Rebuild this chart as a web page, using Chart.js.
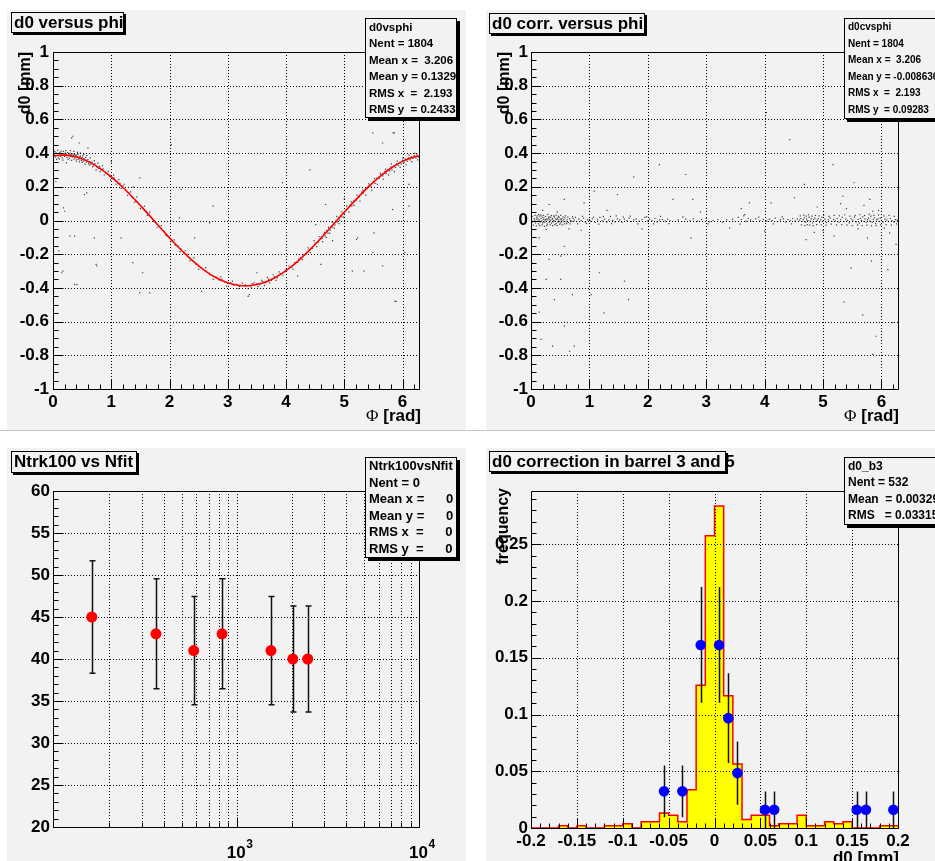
<!DOCTYPE html>
<html><head><meta charset="utf-8">
<script src="https://cdn.jsdelivr.net/npm/chart.js@4.4.1/dist/chart.umd.min.js"></script>
<style>
html,body{margin:0;padding:0;background:#fff;}
body{width:935px;height:861px;overflow:hidden;position:relative;font-family:"Liberation Sans",Arial,Helvetica,sans-serif;font-weight:bold;color:#000;}
.pad{position:absolute;background:#f2f2f2;}
canvas{position:absolute;}
.box{position:absolute;background:#f2f2f2;border:1px solid #000;box-sizing:border-box;white-space:pre;z-index:5;}
.title{box-shadow:2px 2px 0 #000;font-size:17px;line-height:19px;padding-left:2px;}
.stats{box-shadow:3px 3px 0 #000;overflow:hidden;padding-left:3px;}
.stats div{white-space:pre;}
.vt{position:absolute;writing-mode:vertical-rl;transform:rotate(180deg);font-size:16px;line-height:17px;white-space:nowrap;z-index:4;}
.xt{position:absolute;font-size:17px;line-height:17px;white-space:nowrap;z-index:4;text-align:right;}
.phi{font-family:"Liberation Serif","DejaVu Serif",serif;font-weight:normal;}
</style>
</head><body>
<div class="pad" style="left:7px;top:10px;width:459px;height:420px"></div>
<div class="pad" style="left:486px;top:10px;width:449px;height:420px"></div>
<div class="pad" style="left:7px;top:448px;width:459px;height:413px"></div>
<div class="pad" style="left:486px;top:448px;width:449px;height:413px"></div>
<div style="position:absolute;left:0;top:430px;width:935px;height:1px;background:#c4c4c4"></div>

<canvas id="c1" width="459" height="420" style="left:7px;top:10px"></canvas>
<canvas id="c2" width="449" height="420" style="left:486px;top:10px"></canvas>
<canvas id="c3" width="459" height="413" style="left:7px;top:448px"></canvas>
<canvas id="c4" width="449" height="413" style="left:486px;top:448px"></canvas>

<div class="box title" style="left:11px;top:12px;width:113px;height:21px">d0 versus phi</div>
<div class="box title" style="left:489px;top:13px;width:156px;height:21px">d0 corr. versus phi</div>
<div class="box title" style="left:11px;top:451px;width:126px;height:22px">Ntrk100 vs Nfit</div>
<div class="box title" style="left:489px;top:451px;width:237px;height:21px;overflow:visible">d0 correction in barrel 3 and 5</div>
<div style="position:absolute;left:725px;top:451px;width:1px;height:21px;background:#000;z-index:6"></div>
<div style="position:absolute;left:726px;top:453px;width:2px;height:21px;background:#000;z-index:6"></div>

<div class="box stats" style="left:365px;top:18px;width:92px;height:100px;font-size:11.5px;line-height:16.4px"><div>d0vsphi</div><div>Nent = 1804</div><div>Mean x =  3.206</div><div>Mean y = 0.1329</div><div>RMS x  =  2.193</div><div>RMS y  = 0.2433</div></div>
<div class="box stats" style="left:844px;top:18px;width:100px;height:101px;font-size:10px;line-height:16.6px"><div>d0cvsphi</div><div>Nent = 1804</div><div>Mean x =  3.206</div><div>Mean y = -0.008636</div><div>RMS x  =  2.193</div><div>RMS y  = 0.09283</div></div>
<div class="box stats" style="left:365px;top:457px;width:92px;height:101px;font-size:13px;line-height:16.6px"><div>Ntrk100vsNfit</div><div>Nent = 0</div><div>Mean x =      0</div><div>Mean y =      0</div><div>RMS x  =      0</div><div>RMS y  =      0</div></div>
<div class="box stats" style="left:844px;top:457px;width:100px;height:68px;font-size:12px;line-height:16.4px"><div>d0_b3</div><div>Nent = 532</div><div>Mean  = 0.00329</div><div>RMS   = 0.03315</div></div>

<div class="vt" style="left:16px;top:52px">d0 [mm]</div>
<div class="vt" style="left:495px;top:52px">d0 [mm]</div>
<div class="vt" style="left:494px;top:488px">frequency</div>
<div class="xt" style="right:514px;top:407px"><span class="phi">Φ</span> [rad]</div>
<div class="xt" style="right:36px;top:407px"><span class="phi">Φ</span> [rad]</div>
<div class="xt" style="right:36px;top:849px">d0 [mm]</div>

<script>
// ================= DATA =================
// Panel 1 / 2 axes
const phiTicks = [0, 1, 2, 3, 4, 5, 6];
const d0Ticks = [-1, -0.8, -0.6, -0.4, -0.2, 0, 0.2, 0.4, 0.6, 0.8, 1];
// Fitted curve (in panel 1)
const fitPhi = [0,0.2,0.4,0.6,0.8,1.0,1.2,1.4,1.6,1.8,2.0,2.2,2.4,2.6,2.8,3.0,3.2,3.4,3.6,3.8,4.0,4.2,4.4,4.6,4.8,5.0,5.2,5.4,5.6,5.8,6.0,6.2,6.2832];
const fitD0 = [0.383,0.388,0.377,0.351,0.311,0.259,0.196,0.126,0.051,-0.027,-0.103,-0.175,-0.240,-0.296,-0.340,-0.370,-0.386,-0.386,-0.371,-0.341,-0.297,-0.242,-0.177,-0.105,-0.028,0.049,0.124,0.195,0.258,0.310,0.351,0.377,0.383];
// Panel 1 scatter: [phi, d0]
const d0VsPhi = [
[0.02,0.392],[0.04,0.378],[0.05,0.401],[0.07,0.385],[0.09,0.372],[0.1,0.395],[0.12,0.404],[0.13,0.381],[0.15,0.39],[0.16,0.372],[0.18,0.41],[0.19,0.395],[0.2,0.38],[0.21,0.4],[0.23,0.392],[0.24,0.374],[0.25,0.403],[0.27,0.388],[0.28,0.369],[0.29,0.398],[0.3,0.381],[0.31,0.392],[0.33,0.376],[0.34,0.395],[0.35,0.386],[0.36,0.364],[0.37,0.392],[0.38,0.372],[0.39,0.384],[0.4,0.388],[0.41,0.362],[0.42,0.379],[0.43,0.392],[0.44,0.366],[0.45,0.378],[0.46,0.359],[0.47,0.382],[0.48,0.371],[0.49,0.357],[0.5,0.372],[0.51,0.383],[0.52,0.352],[0.53,0.366],[0.55,0.36],[0.56,0.374],[0.57,0.346],[0.58,0.357],[0.6,0.362],[0.61,0.34],[0.63,0.35],[0.65,0.335],[0.67,0.347],[0.7,0.325],[0.72,0.338],[0.75,0.318],[0.78,0.31],[0.8,0.322],[0.83,0.3],[0.86,0.306],[0.9,0.283],[0.93,0.276],[0.97,0.262],[1.0,0.262],[1.02,0.248],[1.05,0.252],[1.07,0.236],[1.1,0.231],[1.12,0.218],[1.15,0.22],[1.18,0.2],[1.2,0.205],[1.25,0.18],[1.3,0.166],[1.35,0.141],[1.38,0.132],[1.42,0.115],[1.45,0.112],[1.48,0.095],[1.52,0.079],[1.55,0.072],[1.6,0.055],[1.63,0.04],[1.68,0.018],[1.75,-0.01],[1.82,-0.035],[1.9,-0.062],[1.95,-0.09],[2.0,-0.1],[2.05,-0.118],[2.1,-0.146],[2.15,-0.152],[2.2,-0.17],[2.25,-0.197],[2.3,-0.2],[2.45,-0.258],[2.55,-0.28],[2.7,-0.322],[2.8,-0.336],[2.85,-0.352],[2.9,-0.348],[2.95,-0.365],[3.0,-0.375],[3.05,-0.37],[3.1,-0.384],[3.15,-0.379],[3.2,-0.392],[3.3,-0.382],[3.4,-0.395],[3.45,-0.37],[3.5,-0.375],[3.55,-0.382],[3.6,-0.362],[3.65,-0.37],[3.7,-0.348],[3.75,-0.355],[3.8,-0.335],[3.85,-0.34],[3.9,-0.315],[4.0,-0.29],[4.1,-0.277],[4.15,-0.25],[4.2,-0.248],[4.25,-0.222],[4.3,-0.205],[4.35,-0.2],[4.4,-0.172],[4.45,-0.165],[4.5,-0.135],[4.55,-0.13],[4.58,-0.11],[4.6,-0.098],[4.62,-0.108],[4.65,-0.08],[4.67,-0.092],[4.7,-0.06],[4.72,-0.075],[4.74,-0.05],[4.76,-0.058],[4.78,-0.032],[4.8,-0.04],[4.82,-0.015],[4.84,-0.028],[4.86,0.0],[4.88,-0.01],[4.9,0.018],[4.92,0.002],[4.94,0.03],[4.96,0.022],[4.98,0.045],[5.0,0.04],[5.03,0.062],[5.06,0.07],[5.1,0.09],[5.13,0.085],[5.16,0.115],[5.2,0.118],[5.23,0.136],[5.26,0.14],[5.3,0.168],[5.33,0.162],[5.36,0.186],[5.4,0.19],[5.43,0.21],[5.46,0.2],[5.5,0.232],[5.53,0.22],[5.56,0.252],[5.6,0.25],[5.63,0.272],[5.66,0.265],[5.7,0.292],[5.72,0.278],[5.75,0.302],[5.78,0.295],[5.8,0.318],[5.82,0.3],[5.85,0.325],[5.88,0.315],[5.9,0.338],[5.93,0.325],[5.95,0.345],[5.98,0.335],[6.0,0.358],[6.03,0.345],[6.05,0.365],[6.08,0.352],[6.1,0.372],[6.13,0.36],[6.15,0.378],[6.18,0.368],[6.2,0.385],[6.23,0.372],[6.25,0.39],[6.27,0.378],
[0.03,0.41],[0.06,0.362],[0.08,0.418],[0.11,0.365],[0.14,0.412],[0.17,0.358],[0.22,0.415],[0.26,0.362],[0.3,0.415],[0.32,0.357],[0.36,0.41],[0.4,0.352],[0.42,0.405],[0.45,0.348],[0.47,0.4],[0.5,0.345],[0.53,0.392],[0.55,0.335],[0.58,0.385],[0.62,0.33],[0.64,0.372],[0.68,0.318],[0.71,0.355],[0.74,0.3],[0.77,0.34],[0.81,0.29],[0.85,0.325],[0.88,0.27],[0.95,0.292],[0.99,0.24],[1.04,0.27],[1.08,0.215],[1.13,0.242],[1.17,0.19],[1.22,0.215],[1.28,0.15],[1.33,0.17],[1.4,0.108],[1.44,0.14],[1.5,0.07],[1.57,0.085],[1.62,0.03],[1.66,0.05],[1.72,-0.005],[1.79,-0.04],[1.86,-0.03],[1.93,-0.085],[2.02,-0.125],[2.08,-0.115],[2.18,-0.185],[2.27,-0.18],[2.35,-0.24],[2.42,-0.22],[2.5,-0.29],[2.62,-0.28],[2.75,-0.35],[2.88,-0.335],[2.98,-0.39],[3.08,-0.36],[3.18,-0.405],[3.25,-0.372],[3.35,-0.405],[3.42,-0.375],[3.52,-0.392],[3.58,-0.355],[3.63,-0.385],[3.68,-0.338],[3.72,-0.37],[3.78,-0.322],[3.83,-0.355],[3.88,-0.305],[3.95,-0.325],[4.05,-0.27],[4.12,-0.29],[4.22,-0.228],[4.28,-0.232],[4.38,-0.162],[4.42,-0.19],[4.48,-0.12],[4.53,-0.155],[4.57,-0.095],[4.63,-0.125],[4.66,-0.07],[4.69,-0.1],[4.73,-0.04],[4.75,-0.075],[4.79,-0.01],[4.83,-0.045],[4.87,0.025],[4.91,-0.018],[4.95,0.052],[4.99,0.02],[5.04,0.085],[5.08,0.05],[5.12,0.11],[5.17,0.09],[5.22,0.15],[5.27,0.115],[5.32,0.18],[5.37,0.15],[5.42,0.218],[5.47,0.18],[5.52,0.25],[5.57,0.215],[5.62,0.28],[5.67,0.245],[5.71,0.305],[5.76,0.27],[5.81,0.335],[5.86,0.29],[5.91,0.352],[5.96,0.315],[6.01,0.37],[6.06,0.33],[6.11,0.39],[6.16,0.35],[6.21,0.398],[6.26,0.36],
[0.32,0.49],[0.34,0.5],[0.18,0.075],[0.2,0.055],[0.29,-0.093],[0.37,-0.093],[0.15,-0.31],[0.17,-0.30],[0.41,-0.38],[0.37,-0.38],[0.58,0.164],[0.54,0.154],[0.75,-0.27],[0.74,-0.26],[1.38,0.2],[1.49,-0.43],[2.75,0.085],[4.41,0.30],[5.84,0.52],[5.87,-0.48],[6.04,-0.19],[5.21,-0.113],[3.35,-0.45],[0.23,0.342],[0.71,-0.103],[1.54,-0.31],[1.66,-0.43],[1.17,-0.103],[1.49,0.253],[2.2,0.184],[2.69,-0.014],[2.43,-0.103],[1.37,-0.25],[2.17,0.016],[2.03,0.45],[3.94,0.224],[4.68,0.095],[4.51,-0.024],[4.6,-0.26],[5.34,-0.30],[5.66,-0.27],[5.51,-0.073],[5.89,-0.48],[5.83,0.065],[6.11,0.085],[3.37,-0.44],[5.49,0.52],[5.66,0.46],[5.86,0.52],[5.23,-0.103],[5.49,-0.19],[5.14,-0.30],[6.11,0.214],[5.94,-0.004],[0.05,0.23],[0.1,-0.18],[0.45,0.46],[0.6,0.43],[1.0,0.35],[2.55,-0.42],[3.5,-0.31],[4.2,-0.33],[4.8,-0.12],[5.0,0.13]
];
// Panel 2 scatter: [phi, corrected d0]
const d0CorrVsPhi = [
[0.01,0.004],[0.03,-0.008],[0.05,0.012],[0.06,0.002],[0.08,-0.015],[0.09,0.008],[0.1,0.018],[0.11,-0.004],[0.12,0.01],[0.13,-0.02],[0.14,0.004],[0.15,0.026],[0.16,-0.008],[0.17,0.012],[0.18,-0.003],[0.19,0.02],[0.2,-0.014],[0.21,0.006],[0.22,0.015],[0.23,-0.01],[0.24,0.002],[0.25,0.024],[0.26,-0.006],[0.27,0.01],[0.28,-0.022],[0.29,0.004],[0.3,0.016],[0.31,-0.012],[0.32,0.008],[0.33,-0.002],[0.34,0.02],[0.35,-0.016],[0.36,0.005],[0.37,0.012],[0.38,-0.008],[0.39,0.0],[0.4,0.022],[0.41,-0.004],[0.42,0.01],[0.43,-0.018],[0.44,0.006],[0.45,0.014],[0.46,-0.01],[0.47,0.003],[0.48,0.018],[0.49,-0.006],[0.5,0.008],[0.51,-0.014],[0.52,0.004],[0.53,0.012],[0.55,-0.004],[0.56,0.006],[0.58,0.016],[0.6,-0.008],[0.62,0.004],[0.64,-0.012],[0.66,0.01],[0.68,0.0],[0.7,-0.006],[0.72,0.012],[0.74,0.002],
[0.78,-0.006],[0.82,0.008],[0.86,0.0],[0.9,0.015],[0.93,-0.01],[0.97,0.004],[1.0,0.006],[1.02,-0.004],[1.05,0.01],[1.1,-0.012],[1.14,0.004],[1.18,0.018],[1.22,-0.002],[1.26,0.008],[1.3,-0.01],[1.33,0.004],[1.36,0.024],[1.4,0.0],[1.44,-0.008],[1.48,0.01],[1.52,0.004],[1.56,-0.012],[1.6,0.008],[1.64,0.0],[1.68,0.014],[1.72,-0.006],[1.76,0.004],[1.8,0.01],[1.85,-0.004],[1.9,0.006],[1.95,0.018],[2.0,-0.002],[2.03,0.008],[2.07,0.0],[2.12,0.012],[2.16,-0.008],[2.2,0.004],[2.25,0.006],[2.3,-0.004],[2.34,0.008],[2.38,0.0],
[2.52,0.004],[2.58,-0.006],[2.65,0.008],[2.72,0.0],[2.78,0.01],[2.85,-0.004],[2.92,0.006],[3.0,0.012],[3.06,-0.008],[3.12,0.0],[3.2,0.006],[3.28,-0.01],[3.35,0.004],[3.45,0.008],[3.55,0.018],[3.6,0.006],[3.64,0.028],[3.68,-0.004],[3.72,0.012],[3.76,0.002],[3.8,-0.006],[3.85,0.01],[3.92,0.0],[3.98,0.006],
[4.04,-0.004],[4.08,0.008],[4.13,0.0],[4.18,0.014],[4.22,-0.006],[4.27,0.004],[4.32,0.01],[4.36,-0.01],[4.4,0.006],[4.44,0.0],[4.48,0.012],[4.52,-0.004],[4.56,0.008],[4.6,0.002],
[4.62,0.012],[4.64,-0.006],[4.66,0.004],[4.68,0.016],[4.7,-0.01],[4.72,0.008],[4.74,0.0],[4.76,0.02],[4.78,-0.004],[4.8,0.01],[4.82,-0.014],[4.84,0.006],[4.86,0.014],[4.88,-0.006],[4.9,0.002],[4.92,0.012],[4.94,-0.01],[4.96,0.004],[4.98,0.018],[5.0,-0.004],[5.03,0.008],[5.06,-0.012],[5.09,0.004],[5.12,0.016],[5.15,-0.006],[5.18,0.006],[5.21,-0.002],[5.24,0.012],[5.27,-0.01],[5.3,0.004],[5.33,0.018],[5.36,-0.006],[5.39,0.008],[5.42,0.0],[5.45,-0.014],[5.48,0.01],[5.51,0.002],[5.54,0.02],[5.57,-0.008],[5.6,0.006],[5.62,-0.016],[5.64,0.012],[5.66,0.0],[5.68,0.022],[5.7,-0.006],[5.72,0.008],[5.74,-0.012],[5.76,0.004],[5.78,0.014],[5.8,-0.004],[5.82,0.026],[5.84,-0.01],[5.86,0.006],[5.88,0.016],[5.9,-0.018],[5.92,0.004],[5.94,0.01],[5.96,-0.006],[5.98,0.014],[6.0,0.0],[6.03,-0.01],[6.06,0.008],[6.09,0.002],[6.12,-0.006],[6.15,0.012],[6.18,0.0],[6.21,-0.008],[6.24,0.006],[6.27,0.002],
[0.02,0.025],[0.04,-0.028],[0.07,0.03],[0.09,-0.032],[0.11,0.028],[0.13,0.035],[0.15,-0.03],[0.17,0.032],[0.19,-0.026],[0.21,0.03],[0.23,-0.035],[0.25,0.005],[0.27,-0.03],[0.29,0.036],[0.31,0.022],[0.33,-0.026],[0.35,0.03],[0.37,-0.03],[0.39,0.028],[0.41,-0.024],[0.43,0.032],[0.45,-0.03],[0.47,0.025],[0.49,-0.022],[0.51,0.03],[0.53,-0.026],[0.55,0.022],[0.57,-0.02],[0.59,0.028],[0.61,-0.018],[0.63,0.02],[0.67,-0.02],[0.71,0.022],[0.76,0.018],[0.8,-0.02],[0.88,0.025],[0.95,-0.018],[1.07,0.02],[1.16,-0.022],[1.24,0.024],[1.38,-0.018],[1.46,0.028],[1.58,0.02],[1.7,0.026],[1.83,-0.02],[1.98,0.022],[2.1,-0.02],[2.22,0.025],[2.36,-0.018],[2.6,0.022],[3.03,-0.02],[3.58,-0.022],[3.66,0.035],[3.9,0.02],[4.15,-0.02],[4.3,0.022],[4.46,-0.02],[4.61,0.028],[4.63,-0.026],[4.67,0.032],[4.69,-0.03],[4.71,0.026],[4.73,-0.024],[4.75,0.034],[4.77,-0.028],[4.81,0.026],[4.83,-0.03],[4.87,0.03],[4.89,-0.024],[4.93,0.028],[4.97,-0.026],[5.01,0.03],[5.05,-0.028],[5.1,0.025],[5.14,-0.022],[5.19,0.03],[5.23,-0.026],[5.28,0.028],[5.32,-0.024],[5.37,0.034],[5.41,-0.028],[5.46,0.026],[5.5,-0.03],[5.55,0.03],[5.59,-0.026],[5.63,0.034],[5.67,-0.03],[5.71,0.03],[5.75,-0.028],[5.79,0.036],[5.83,-0.032],[5.87,0.03],[5.91,-0.03],[5.95,0.032],[5.99,-0.026],[6.04,0.028],[6.08,-0.024],[6.13,0.03],[6.17,-0.028],[6.22,0.024],[6.26,-0.02],
[2.197,0.332],[2.65,0.273],[5.17,0.332],[4.68,0.214],[5.53,0.224],[1.76,0.259],[0.57,0.125],[0.31,0.095],[0.91,0.105],[1.48,0.154],[1.08,0.174],[2.43,0.125],[2.77,0.125],[3.74,0.105],[4.11,0.105],[4.51,0.135],[5.34,0.144],[5.80,0.125],[5.85,0.055],[2.74,-0.103],[3.40,-0.044],[0.57,-0.153],[0.51,-0.212],[0.31,-0.231],[0.26,-0.35],[0.51,-0.35],[0.71,-0.44],[0.40,-0.469],[1.03,-0.44],[1.25,-0.548],[1.67,-0.469],[1.60,-0.36],[1.17,-0.31],[0.57,-0.627],[0.17,-0.706],[0.37,-0.746],[0.66,-0.776],[0.74,-0.746],[5.25,-0.202],[5.48,-0.281],[5.36,-0.483],[5.68,-0.562],[5.83,-0.241],[6.11,-0.291],[6.19,-0.607],[5.91,-0.687],[5.85,-0.795],[6.25,-0.142],[6.14,-0.073],[4.71,-0.113],[5.19,-0.093],[5.76,-0.103],[0.14,-0.544],[0.14,-0.103],[0.26,-0.053],[0.86,-0.058],[4.0,-0.063],[4.03,0.64],[4.43,0.48],[0.2,0.06],[0.45,0.05],[0.65,-0.05],[1.3,0.06],[1.9,-0.05],[2.9,0.05],[3.6,0.07],[4.9,0.08],[5.0,-0.06],[5.4,0.07],[5.6,-0.05],[5.95,0.06],[6.05,-0.045],[4.85,-0.07],[5.3,0.1],[5.7,0.09]
];
// Panel 3: Ntrk100 vs Nfit
const nfitX = [160, 360, 580, 830, 1540, 2030, 2450];
const ntrkY = [45, 43, 41, 43, 41, 40, 40];
const ntrkErr = [6.7, 6.55, 6.45, 6.55, 6.45, 6.32, 6.32];
const ntrkTicks = [20, 25, 30, 35, 40, 45, 50, 55, 60];
const nfitGrid = [200,300,400,500,600,700,800,900,1000,2000,3000,4000,5000,6000,7000,8000,9000];
const nfitLabelValues = [1000, 10000];
const nfitLabelExp = ['3', '4'];
// Panel 4: d0 correction histogram (bin low edges, frequency) and data points
const histLowEdges = [-0.2,-0.19,-0.18,-0.17,-0.16,-0.15,-0.14,-0.13,-0.12,-0.11,-0.1,-0.09,-0.08,-0.07,-0.06,-0.05,-0.04,-0.03,-0.02,-0.01,0,0.01,0.02,0.03,0.04,0.05,0.06,0.07,0.08,0.09,0.1,0.11,0.12,0.13,0.14,0.15,0.16,0.17,0.18,0.19];
const histFreq = [0,0,0,0.0019,0,0.0019,0,0,0.0019,0.0019,0.0038,0,0.0056,0.0056,0.0132,0.0113,0.0056,0.0338,0.1259,0.2575,0.2838,0.1165,0.0564,0.0075,0.0113,0.0113,0.0019,0.0038,0.0038,0.0113,0.0019,0.0019,0.0056,0.0038,0.0056,0,0,0,0.0019,0.0019];
const histHigh = 0.2;
const b3X = [-0.055, -0.035, -0.015, 0.005, 0.015, 0.025, 0.055, 0.065, 0.155, 0.165, 0.195];
const b3Y = [0.0323, 0.0323, 0.1613, 0.1613, 0.0968, 0.0484, 0.0161, 0.0161, 0.0161, 0.0161, 0.0161];
const b3Err = [0.0228, 0.0228, 0.051, 0.051, 0.0395, 0.0279, 0.0161, 0.0161, 0.0161, 0.0161, 0.0161];
const histXTicks = [-0.2, -0.15, -0.1, -0.05, 0, 0.05, 0.1, 0.15, 0.2];
const freqTicks = [0, 0.05, 0.1, 0.15, 0.2, 0.25];

// ================= HELPERS =================
const FAM = "'Liberation Sans', Arial, Helvetica, sans-serif";
const FONT = {family: FAM, size: 17, weight: 'bold'};
function fmt(v) { let s = (+(+v).toFixed(3)).toString(); return s === '-0' ? '0' : s; }
function steps(min, max, step) { const a = []; for (let v = min; v <= max + 1e-9; v += step) a.push(+v.toFixed(6)); return a; }

function drawGrid(chart, cfg) {
  const {ctx, chartArea: a} = chart; const xs = chart.scales.x, ys = chart.scales.y;
  ctx.save(); ctx.beginPath(); ctx.strokeStyle = '#000'; ctx.lineWidth = 1; ctx.setLineDash([1, 2]);
  cfg.xGrid.forEach(v => { if (v <= xs.min + 1e-9 || v >= xs.max - 1e-9) return; const p = Math.round(xs.getPixelForValue(v)) + 0.5; ctx.moveTo(p, a.top); ctx.lineTo(p, a.bottom); });
  cfg.yGrid.forEach(v => { if (v <= ys.min + 1e-9 || v >= ys.max - 1e-9) return; const p = Math.round(ys.getPixelForValue(v)) + 0.5; ctx.moveTo(a.left, p); ctx.lineTo(a.right, p); });
  ctx.stroke(); ctx.restore();
}
function drawErr(chart, e) {
  const {ctx} = chart; const xs = chart.scales.x, ys = chart.scales.y;
  ctx.save(); ctx.strokeStyle = e.color; ctx.lineWidth = e.width; ctx.beginPath();
  e.x.forEach((xv, i) => {
    const px = Math.round(xs.getPixelForValue(xv)) + 0.5;
    const y1 = ys.getPixelForValue(Math.max(e.y[i] - e.err[i], ys.min));
    const y2 = ys.getPixelForValue(e.y[i] + e.err[i]);
    ctx.moveTo(px, y1); ctx.lineTo(px, y2);
    if (e.cap) { ctx.moveTo(px - e.cap, y1); ctx.lineTo(px + e.cap, y1); ctx.moveTo(px - e.cap, y2); ctx.lineTo(px + e.cap, y2); }
  });
  ctx.stroke(); ctx.restore();
}
function drawFrame(chart, cfg) {
  const {ctx, chartArea: a} = chart; const xs = chart.scales.x, ys = chart.scales.y;
  const L = Math.round(a.left) + 0.5, R = Math.round(a.right) + 0.5, T = Math.round(a.top) + 0.5, B = Math.round(a.bottom) + 0.5;
  ctx.save(); ctx.strokeStyle = '#000'; ctx.lineWidth = 1; ctx.setLineDash([]);
  ctx.beginPath(); ctx.rect(L, T, R - L, B - T);
  const tick = (arr, len, isX) => arr.forEach(v => {
    if (isX) { if (v < xs.min - 1e-9 || v > xs.max + 1e-9) return; const p = Math.round(xs.getPixelForValue(v)) + 0.5; ctx.moveTo(p, B); ctx.lineTo(p, B - len); }
    else { if (v < ys.min - 1e-9 || v > ys.max + 1e-9) return; const p = Math.round(ys.getPixelForValue(v)) + 0.5; ctx.moveTo(L, p); ctx.lineTo(L + len, p); }
  });
  tick(cfg.xMinor, 5, true); tick(cfg.xMajor, 10, true); tick(cfg.yMinor, 5, false); tick(cfg.yMajor, 10, false);
  ctx.stroke(); ctx.restore();
}
function rootPlugin(cfg) {
  return {
    id: 'root' + cfg.name,
    beforeDatasetsDraw(chart) { if (cfg.gridAfter == null) drawGrid(chart, cfg); },
    afterDatasetDraw(chart, args) { if (cfg.gridAfter === args.index) drawGrid(chart, cfg); },
    beforeDatasetDraw(chart, args) { if (cfg.err && cfg.err.index === args.index) drawErr(chart, cfg.err); },
    afterDraw(chart) { drawFrame(chart, cfg); if (cfg.after) cfg.after(chart); }
  };
}
function baseOptions(o) {
  return {
    responsive: false, animation: false, devicePixelRatio: 1, events: [],
    layout: {padding: o.padding},
    plugins: {legend: {display: false}, tooltip: {enabled: false}},
    scales: {
      x: {type: o.xType || 'linear', min: o.xMin, max: o.xMax,
          afterBuildTicks: s => { s.ticks = o.xTicks.map(v => ({value: v})); },
          afterFit: s => { s.height = o.xH; },
          grid: {display: false, drawTicks: false}, border: {display: false},
          ticks: {display: o.xLabels !== false, padding: 3, color: '#000', font: FONT, maxRotation: 0, autoSkip: false, callback: v => fmt(v)}},
      y: {type: 'linear', min: o.yMin, max: o.yMax,
          afterBuildTicks: s => { s.ticks = o.yTicks.map(v => ({value: v})); },
          afterFit: s => { s.width = o.yW; },
          grid: {display: false, drawTicks: false}, border: {display: false},
          ticks: {padding: o.yPad, color: '#000', font: FONT, autoSkip: false, callback: v => fmt(v)}}
    }
  };
}
const toXY = arr => arr.map(p => ({x: p[0], y: p[1]}));
const dotStyle = {pointStyle: 'rect', pointRadius: 0.85, backgroundColor: 'rgba(0,0,0,0.75)', borderWidth: 0, showLine: false};

// ================= PANEL 1 =================
new Chart(document.getElementById('c1'), {
  type: 'scatter',
  data: {datasets: [
    {type: 'line', data: fitPhi.map((p, i) => ({x: p, y: fitD0[i]})), borderColor: '#ff0000', borderWidth: 1.6, pointRadius: 0, tension: 0.4, fill: false, order: 0},
    Object.assign({data: toXY(d0VsPhi), order: 1}, dotStyle)
  ]},
  options: baseOptions({padding: {left: 0, top: 42, right: 47, bottom: 0}, xMin: 0, xMax: 6.2832, xTicks: phiTicks, xH: 41, yMin: -1, yMax: 1, yTicks: d0Ticks, yW: 46, yPad: 4}),
  plugins: [rootPlugin({name: 1, xGrid: phiTicks, yGrid: d0Ticks, xMajor: phiTicks, xMinor: steps(0, 6.2832, 0.2), yMajor: d0Ticks, yMinor: steps(-1, 1, 0.05)})]
});

// ================= PANEL 2 =================
new Chart(document.getElementById('c2'), {
  type: 'scatter',
  data: {datasets: [Object.assign({data: toXY(d0CorrVsPhi)}, dotStyle)]},
  options: baseOptions({padding: {left: 0, top: 42, right: 37, bottom: 0}, xMin: 0, xMax: 6.2832, xTicks: phiTicks, xH: 41, yMin: -1, yMax: 1, yTicks: d0Ticks, yW: 45, yPad: 3}),
  plugins: [rootPlugin({name: 2, xGrid: phiTicks, yGrid: d0Ticks, xMajor: phiTicks, xMinor: steps(0, 6.2832, 0.2), yMajor: d0Ticks, yMinor: steps(-1, 1, 0.05)})]
});

// ================= PANEL 3 =================
new Chart(document.getElementById('c3'), {
  type: 'scatter',
  data: {datasets: [{data: nfitX.map((x, i) => ({x: x, y: ntrkY[i]})), pointRadius: 5.5, backgroundColor: '#ff0000', borderWidth: 0}]},
  options: baseOptions({padding: {left: 0, top: 43, right: 47, bottom: 0}, xType: 'logarithmic', xMin: 98, xMax: 10000, xTicks: nfitGrid, xH: 34, xLabels: false, yMin: 20, yMax: 60, yTicks: ntrkTicks, yW: 46, yPad: 3}),
  plugins: [rootPlugin({name: 3, xGrid: nfitGrid, yGrid: ntrkTicks, xMajor: nfitLabelValues, xMinor: nfitGrid, yMajor: ntrkTicks, yMinor: steps(20, 60, 1),
    err: {index: 0, x: nfitX, y: ntrkY, err: ntrkErr, color: '#111', width: 1.5, cap: 3},
    after(chart) {
      const {ctx} = chart; const xs = chart.scales.x;
      ctx.save(); ctx.fillStyle = '#000'; ctx.textBaseline = 'alphabetic'; ctx.textAlign = 'left';
      nfitLabelValues.forEach((v, i) => {
        const p = xs.getPixelForValue(v);
        ctx.font = 'bold 17px ' + FAM; const w = ctx.measureText('10').width;
        ctx.fillText('10', p - 10, 410);
        ctx.font = 'bold 12px ' + FAM; ctx.fillText(nfitLabelExp[i], p - 10 + w + 0.5, 400);
      });
      ctx.restore();
    }})]
});

// ================= PANEL 4 =================
const histPoints = histLowEdges.map((x, i) => ({x: x, y: histFreq[i]}));
histPoints.push({x: histHigh, y: histFreq[histFreq.length - 1]});
new Chart(document.getElementById('c4'), {
  type: 'scatter',
  data: {datasets: [
    {data: b3X.map((x, i) => ({x: x, y: b3Y[i]})), pointRadius: 5.3, backgroundColor: '#0000ff', borderWidth: 0, order: 0},
    {type: 'line', data: histPoints, stepped: true, fill: 'origin', backgroundColor: '#ffff00', borderColor: '#ff0000', borderWidth: 1.5, pointRadius: 0, order: 1}
  ]},
  options: baseOptions({padding: {left: 0, top: 43, right: 37, bottom: 0}, xMin: -0.2, xMax: 0.2, xTicks: histXTicks, xH: 33, yMin: 0, yMax: 0.297, yTicks: freqTicks, yW: 45, yPad: 3}),
  plugins: [rootPlugin({name: 4, gridAfter: 1, xGrid: histXTicks, yGrid: freqTicks, xMajor: histXTicks, xMinor: steps(-0.2, 0.2, 0.01), yMajor: freqTicks, yMinor: steps(0, 0.297, 0.01),
    err: {index: 0, x: b3X, y: b3Y, err: b3Err, color: '#111', width: 1.5, cap: 0}})]
});
</script>
</body></html>
